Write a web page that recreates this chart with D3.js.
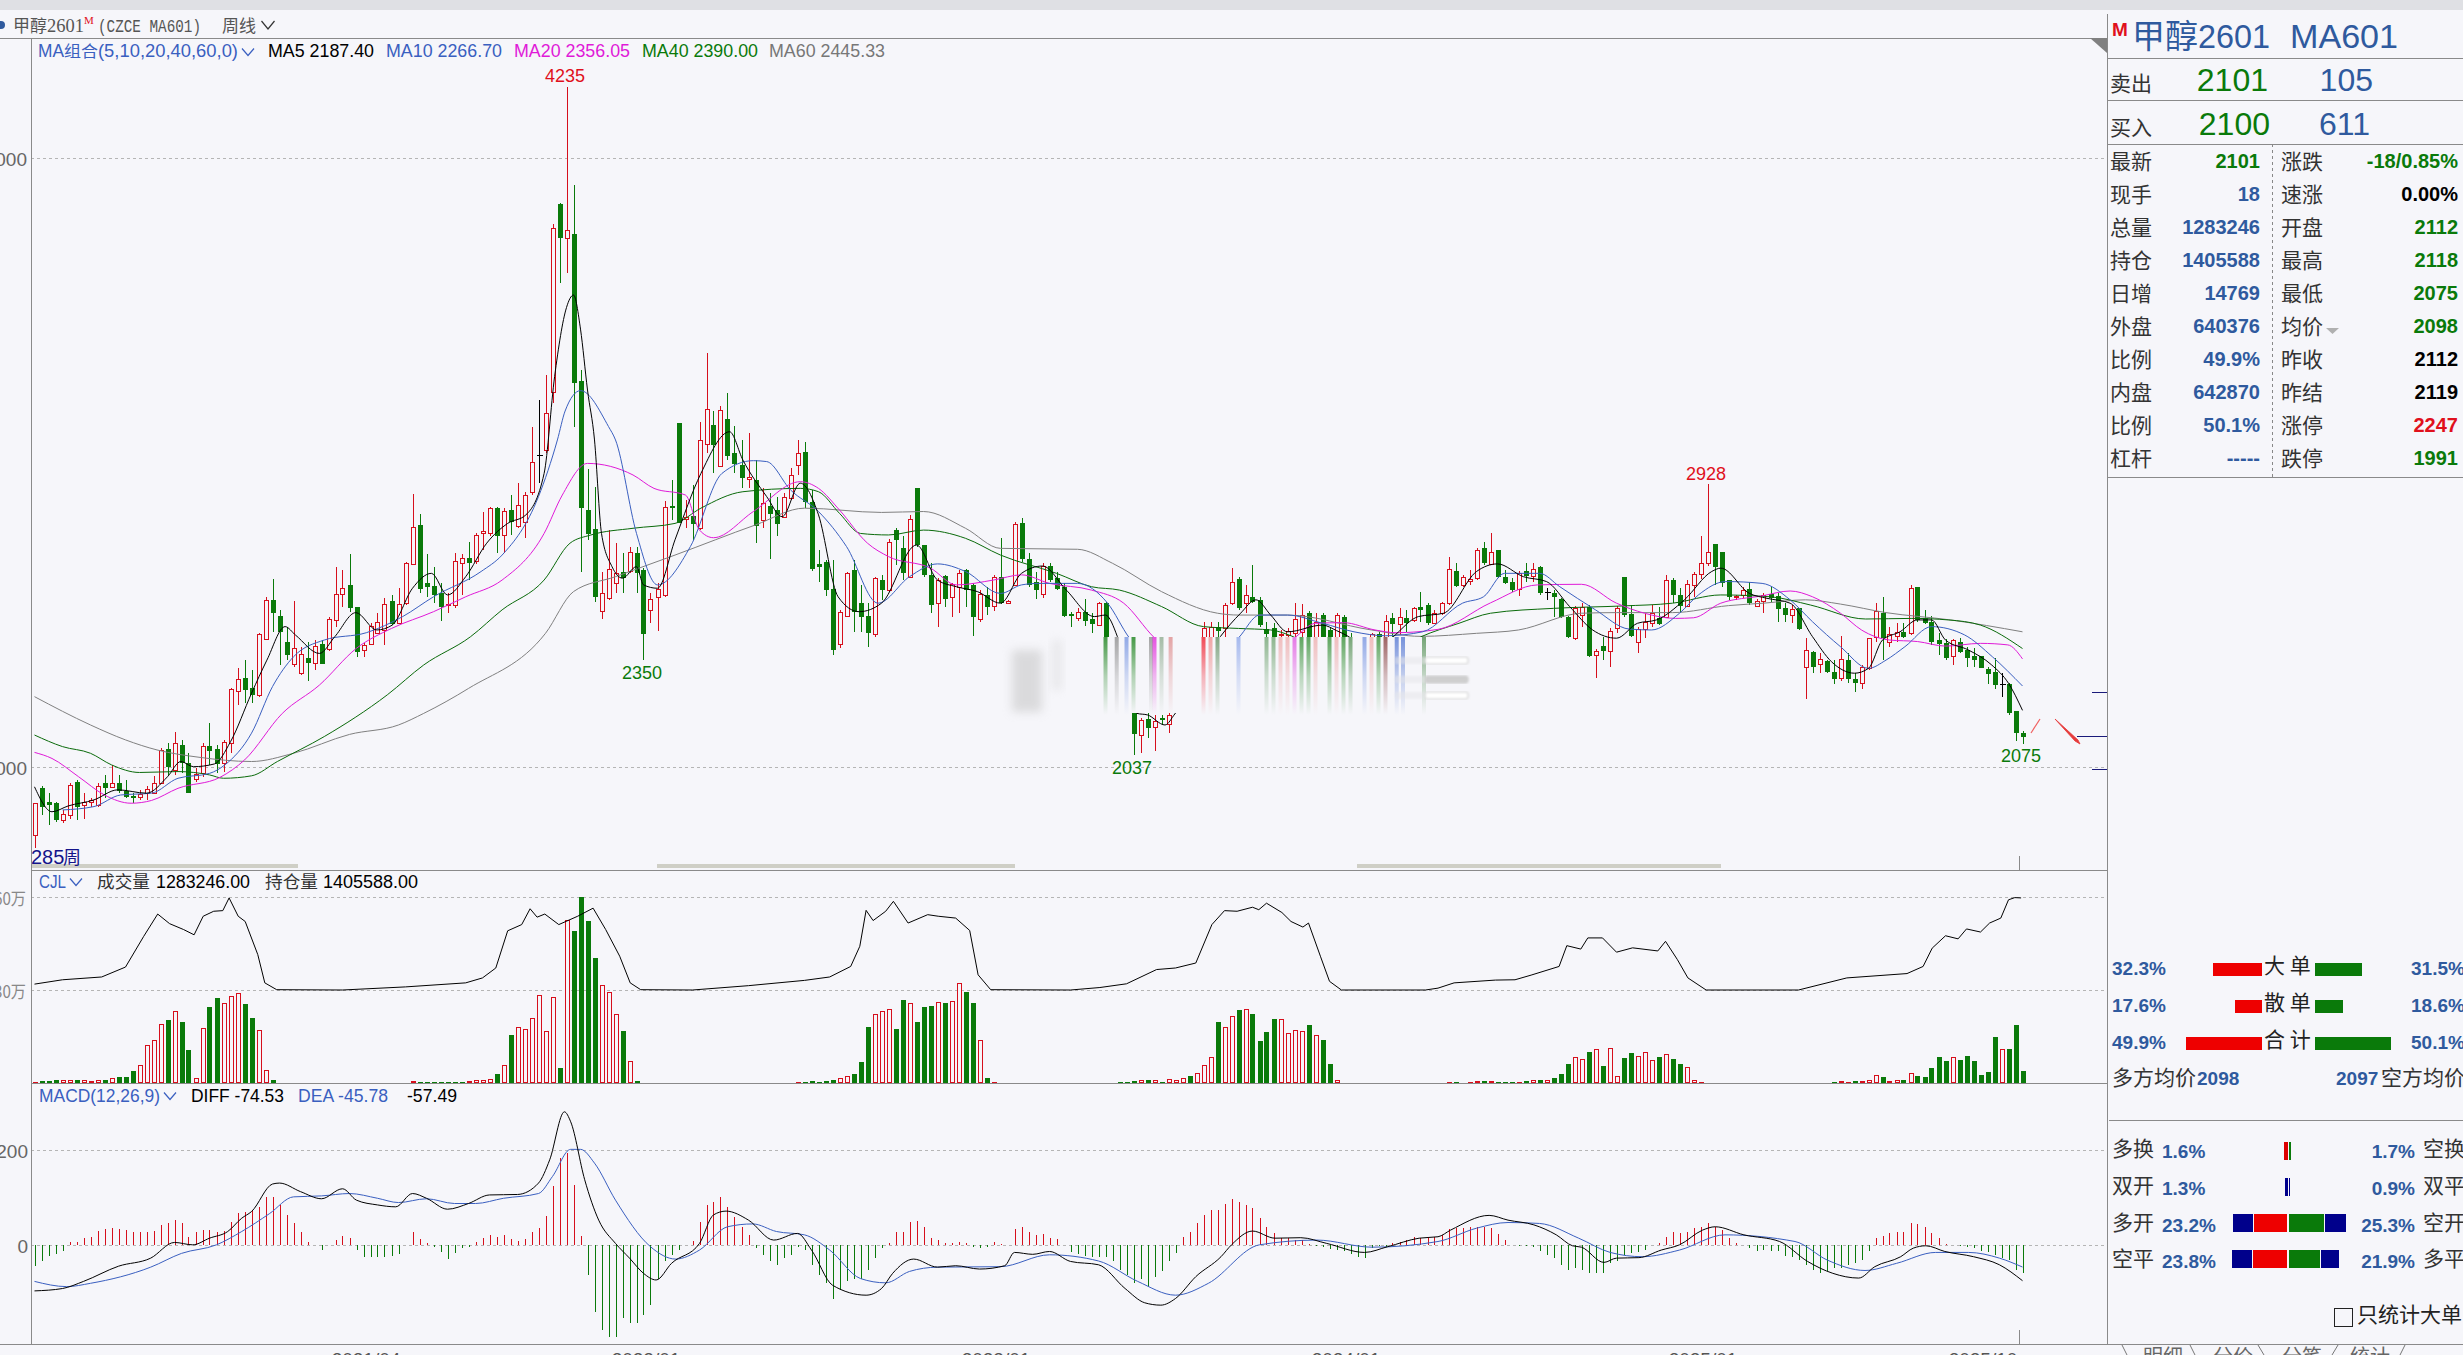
<!DOCTYPE html>
<html><head><meta charset="utf-8">
<style>html,body{margin:0;padding:0;background:#f6f6fa;overflow:hidden}svg{display:block}</style>
<script src="https://cdn.jsdelivr.net/npm/d3@7"></script>
</head><body><svg id="c" width="2463" height="1355"></svg>
<script>
const opens=[
1778,1931,1887,1882,1827,1843,1953,1876,1885,1876,
1947,1934,1947,1922,1906,1901,1915,1917,1950,2059,
1991,2073,2015,1962,1980,2070,2059,2015,2081,2252,
2292,2259,2237,2421,2551,2498,2412,2339,2309,2358,
2341,2405,2388,2484,2568,2599,2525,2385,2405,2442,
2451,2546,2473,2539,2668,2796,2604,2595,2574,2533,
2533,2672,2686,2679,2771,2768,2851,2763,2845,2793,
2807,2905,3026,3042,3234,3850,3737,3750,3269,2845,
2782,2514,2555,2606,2643,2646,2703,2648,2517,2560,
2566,2858,3130,2814,2825,2785,3062,3123,2991,3143,
3031,2993,2946,2944,2812,2859,2845,2823,2883,2993,
3037,2872,2668,2675,2586,2405,2497,2648,2539,2497,
2438,2615,2582,2779,2719,2624,2918,2729,2632,2539,
2628,2558,2593,2648,2599,2487,2566,2531,2624,2541,
2599,2801,2683,2610,2569,2661,2621,2593,2503,2491,
2511,2486,2467,2539,2350,2290,2320,2330,2106,2158,
2131,2161,2141,2220,2280,2340,2310,2352,2375,2462,
2456,2539,2618,2539,2560,2551,2454,2456,2433,2435,
2440,2445,2508,2429,2500,2451,2418,2495,2429,2350,
2400,2374,2437,2342,2489,2471,2491,2484,2528,2533,
2475,2506,2539,2645,2599,2612,2623,2720,2668,2712,
2624,2610,2585,2645,2629,2659,2577,2574,2552,2495,
2424,2500,2528,2369,2398,2382,2456,2626,2503,2413,
2453,2475,2491,2495,2615,2566,2530,2599,2634,2670,
2733,2708,2615,2558,2566,2585,2531,2547,2569,2563,
2522,2500,2522,2331,2380,2338,2349,2312,2292,2353,
2289,2278,2325,2427,2506,2413,2432,2445,2440,2593,
2489,2478,2418,2407,2366,2411,2385,2366,2364,2323,
2312,2273,2273,2185,2112];
const closes=[
1882,1871,1876,1827,1847,1942,1871,1887,1893,1939,
1931,1950,1922,1904,1900,1912,1929,1947,2057,2002,
2079,2015,1917,1978,2070,2054,2011,2084,2256,2290,
2254,2237,2437,2551,2506,2445,2369,2391,2372,2341,
2398,2339,2487,2568,2590,2522,2378,2402,2465,2476,
2536,2471,2536,2672,2788,2586,2593,2566,2528,2537,
2679,2686,2672,2763,2776,2851,2758,2843,2807,2862,
2894,3004,3026,3165,3770,3739,3765,3263,2853,2766,
2560,2571,2650,2637,2621,2708,2637,2438,2552,2585,
2854,2851,2803,2821,2799,3075,3176,3059,3172,3022,
2996,2949,2952,2794,2867,2832,2799,2889,2960,3033,
2872,2650,2659,2582,2385,2511,2639,2511,2495,2442,
2621,2582,2741,2748,2637,2817,2730,2632,2533,2615,
2552,2602,2639,2582,2495,2569,2528,2624,2539,2545,
2799,2683,2599,2582,2661,2615,2586,2497,2498,2511,
2482,2471,2539,2380,2300,2330,2280,2109,2155,2128,
2153,2155,2172,2290,2330,2300,2350,2459,2462,2449,
2533,2610,2522,2566,2542,2467,2438,2429,2438,2449,
2487,2500,2418,2478,2418,2407,2500,2396,2363,2390,
2360,2438,2342,2482,2471,2493,2475,2522,2517,2475,
2508,2539,2650,2596,2624,2619,2712,2671,2706,2624,
2606,2582,2637,2628,2651,2574,2577,2560,2492,2429,
2522,2528,2367,2383,2383,2449,2524,2500,2431,2453,
2478,2506,2470,2615,2566,2530,2602,2635,2671,2706,
2659,2606,2560,2563,2582,2539,2546,2566,2555,2520,
2500,2520,2454,2385,2331,2355,2314,2290,2355,2289,
2276,2328,2424,2512,2424,2437,2443,2429,2588,2484,
2473,2410,2405,2358,2418,2380,2358,2352,2327,2305,
2270,2273,2177,2112,2101];
const highs=[
1882,1940,1915,1885,1860,1950,1958,1915,1898,1950,
1975,2008,1975,1958,1915,1925,1937,1970,2062,2079,
2117,2090,2046,1997,2079,2147,2073,2090,2259,2325,
2352,2320,2442,2560,2617,2517,2462,2546,2396,2413,
2418,2418,2495,2657,2648,2699,2528,2407,2473,2506,
2555,2566,2588,2675,2897,2832,2701,2659,2604,2571,
2703,2701,2741,2768,2840,2856,2856,2851,2894,2933,
2905,3119,3206,3288,3784,3852,4235,3912,3305,2979,
2922,2643,2779,2736,2703,2725,2725,2653,2571,2604,
2873,2944,3130,2878,2927,3135,3360,3170,3187,3228,
3121,3075,3097,3009,2916,2900,2889,2900,2982,3075,
3069,2911,2714,2681,2681,2517,2643,2681,2599,2539,
2626,2632,2749,2785,2758,2829,2918,2729,2670,2621,
2632,2604,2648,2650,2604,2582,2593,2632,2752,2548,
2804,2818,2703,2643,2672,2672,2643,2604,2511,2522,
2552,2506,2544,2544,2365,2345,2340,2340,2161,2177,
2172,2172,2177,2310,2350,2360,2370,2478,2478,2478,
2539,2654,2626,2599,2664,2560,2478,2473,2450,2456,
2539,2536,2514,2506,2506,2462,2508,2500,2440,2410,
2415,2440,2445,2500,2508,2522,2517,2528,2575,2539,
2517,2544,2692,2670,2632,2648,2719,2741,2768,2714,
2648,2621,2645,2670,2670,2661,2588,2582,2555,2497,
2530,2539,2533,2388,2429,2456,2530,2626,2533,2462,
2506,2533,2528,2632,2621,2588,2615,2643,2760,2929,
2733,2708,2615,2566,2593,2610,2552,2574,2593,2571,
2539,2533,2524,2424,2383,2374,2352,2352,2432,2374,
2309,2336,2424,2539,2558,2462,2473,2473,2599,2593,
2517,2498,2440,2420,2421,2424,2394,2391,2366,2331,
2358,2309,2276,2186,2118];
const lows=[
1734,1843,1811,1820,1818,1830,1827,1829,1871,1871,
1898,1931,1915,1898,1882,1893,1893,1912,1950,1975,
1975,1980,1917,1953,1969,2008,1980,1986,2046,2205,
2210,2210,2230,2418,2445,2336,2353,2331,2303,2285,
2320,2339,2383,2462,2528,2511,2361,2361,2402,2440,
2402,2467,2471,2533,2665,2571,2560,2539,2482,2506,
2522,2566,2615,2668,2714,2758,2703,2703,2763,2785,
2752,2894,2933,3031,3195,3590,3622,3119,2643,2747,
2544,2486,2550,2571,2571,2637,2571,2352,2475,2449,
2560,2812,2801,2785,2747,2779,3031,2966,2987,3009,
2966,2916,2916,2738,2785,2683,2758,2818,2878,2960,
2851,2646,2610,2561,2369,2391,2495,2445,2445,2394,
2429,2550,2577,2665,2615,2621,2725,2626,2506,2462,
2528,2495,2506,2528,2432,2476,2500,2514,2537,2540,
2597,2675,2593,2552,2555,2610,2582,2493,2462,2482,
2464,2442,2464,2360,2285,2280,2270,2040,2046,2095,
2055,2139,2114,2200,2260,2285,2295,2330,2350,2309,
2374,2533,2517,2506,2539,2462,2320,2320,2380,2360,
2320,2309,2309,2320,2320,2340,2340,2340,2340,2330,
2345,2350,2320,2320,2396,2434,2445,2478,2478,2467,
2471,2500,2533,2591,2593,2599,2615,2665,2665,2621,
2602,2577,2561,2610,2610,2566,2550,2495,2489,2424,
2418,2462,2361,2292,2353,2328,2440,2495,2429,2374,
2424,2462,2467,2489,2539,2506,2528,2560,2617,2661,
2599,2593,2550,2550,2555,2533,2528,2506,2544,2478,
2478,2473,2451,2223,2309,2309,2309,2273,2285,2276,
2248,2256,2320,2413,2352,2396,2413,2424,2435,2478,
2471,2402,2369,2353,2336,2374,2328,2328,2325,2273,
2256,2232,2172,2088,2075];

const ma5=[[0,1936],[2.5,1854],[4.8,1873],[8.5,1893],[11.9,1926],[16,1915],[19,1969],[20.9,2019],[22.7,2002],[25.7,2011],[28,2084],[31,2243],[33.2,2352],[35.8,2462],[37.3,2434],[40.7,2374],[42.9,2429],[45.9,2508],[48.9,2451],[51.1,2467],[54,2588],[56.7,2637],[59,2566],[61.6,2626],[64.6,2736],[67.6,2801],[70.2,2829],[72.8,2965],[74.3,3283],[76,3510],[77,3551],[78,3439],[79,3239],[80,3075],[81,2768],[82.5,2659],[84,2621],[86,2659],[87,2599],[89,2588],[91.5,2747],[95.2,2965],[99.3,3102],[101.2,3009],[104.6,2889],[106.8,2823],[109.4,2933],[112,2829],[114.8,2560],[117.8,2511],[121,2539],[126,2730],[129,2615],[131.7,2593],[134.7,2577],[138,2539],[141,2637],[144,2661],[147.4,2582],[151.4,2495],[153,2500],[154.7,2429],[157.5,2177],[159,2172],[161.5,2139],[162.9,2175],[169.4,2429],[172.3,2506],[174.5,2550],[176.6,2500],[179,2445],[184,2467],[186,2449],[188,2425],[191,2360],[194.4,2435],[197.7,2495],[201.3,2506],[206,2643],[209,2668],[212.7,2626],[216,2610],[219.3,2528],[222.6,2451],[226,2424],[229,2473],[231.7,2484],[235.7,2550],[239.6,2643],[240.9,2654],[245,2571],[247.5,2555],[250.8,2539],[254,2429],[256.7,2347],[260,2309],[262,2325],[264,2418],[266.5,2445],[269,2484],[271,2484],[273,2418],[276.3,2385],[279.6,2336],[282,2276],[284,2187]];
const ma10=[[4,1860],[8.5,1871],[12.3,1909],[16.7,1915],[20.5,1964],[25,1980],[27.2,2008],[31,2112],[34,2265],[37,2363],[41.4,2418],[47.4,2442],[52.6,2495],[57,2560],[63.8,2643],[66.8,2697],[72,2889],[74.7,3075],[75.8,3170],[78,3237],[82,3119],[83,3075],[86,2768],[89,2599],[93.7,2725],[98.2,2965],[102.7,3007],[104.6,3004],[108,2911],[112,2840],[116,2725],[120.5,2539],[125,2626],[129,2668],[133,2643],[138,2571],[141,2599],[143.5,2604],[149,2604],[153.3,2539],[156.4,2425],[160,2340],[168,2340],[172,2425],[175,2500],[179,2500],[184,2473],[188.5,2445],[193,2432],[198.3,2445],[204,2539],[207,2560],[210,2637],[215,2637],[217.9,2593],[223,2517],[227.8,2454],[231,2451],[235,2506],[237.7,2566],[241.6,2610],[246.8,2604],[250.8,2550],[254,2478],[258,2396],[262,2325],[264.5,2352],[267.2,2396],[271,2462],[275.7,2435],[279.7,2363],[284,2267]];
const ma20=[[0,2049],[2.5,2029],[6.3,1969],[10,1909],[13.8,1882],[16.7,1891],[20.5,1931],[26.5,1967],[30,2024],[35.4,2177],[40.7,2270],[46,2391],[51,2456],[57,2511],[61.6,2560],[66.8,2615],[72.8,2768],[75.4,2894],[79,2998],[85.5,2960],[88.5,2916],[93,2894],[95,2779],[97,2754],[102.7,2840],[109.4,2938],[112,2916],[115,2845],[119,2736],[122,2692],[128,2654],[131.7,2599],[137,2615],[141,2632],[145,2604],[151,2582],[155.6,2539],[160,2425],[165,2340],[175,2340],[180,2425],[183,2473],[187,2475],[191.5,2451],[194.5,2442],[200.5,2453],[208,2540],[214.7,2599],[221,2601],[226,2539],[230,2506],[234.4,2489],[237,2491],[240.9,2539],[246.8,2563],[250.8,2579],[254,2560],[258,2506],[261,2451],[265,2418],[269,2413],[273,2398],[278,2407],[281.9,2402],[284,2356]];
const ma40=[[0,2106],[4,2068],[8,2046],[11,2008],[15,1983],[20.5,1986],[25,1975],[27,1964],[31,1972],[34.7,2019],[41.4,2101],[50.4,2238],[55.6,2336],[62.3,2429],[66.8,2517],[72.8,2615],[76.5,2736],[79.5,2763],[85.5,2785],[91.5,2801],[95.2,2851],[101.2,2905],[109.4,2916],[112,2905],[115,2834],[118,2768],[122,2763],[127,2779],[133,2752],[138,2697],[146,2637],[151,2593],[155,2582],[161,2528],[167,2462],[172,2456],[176.6,2451],[179.5,2432],[184,2380],[194,2380],[198,2428],[203.5,2473],[208,2506],[217,2522],[227,2530],[234,2539],[240.9,2566],[248,2560],[253.7,2533],[261.6,2487],[268.2,2489],[273.4,2484],[278,2467],[284,2390]];
const ma60=[[0,2232],[8,2139],[13,2090],[17.5,2057],[23.5,2033],[31,2019],[37,2046],[45,2108],[52,2139],[55.6,2177],[62,2259],[73,2440],[77,2577],[83,2626],[91.5,2697],[103,2796],[110,2851],[121,2837],[127,2840],[133,2785],[138,2719],[149,2716],[154,2670],[161,2577],[169,2506],[172,2500],[179,2500],[191,2451],[198,2430],[206,2440],[212,2451],[221,2506],[226,2508],[234,2508],[242,2531],[247,2539],[253,2550],[258,2536],[264.5,2508],[273.7,2484],[284,2445]];

const volumes=[
.3,.5,.6,1.1,.9,1.1,1.1,1.1,.5,1.1,1.1,1.6,2,2,4,5.9,12.4,14,19.1,20.4,23.2,19.8,10.8,1.6,17.7,24.6,27.5,25.8,28.2,29,25.6,21.1,17.1,4.3,1.1,
0,0,0,0,0,0,0,0,0,0,0,0,0,0,0,0,0,0,0,
.6,.3,.3,.3,.3,.3,.3,.3,.5,.9,1.1,1.4,3,5.8,15.6,18.1,17.5,21,28.5,16.9,27.8,4.9,52.6,49.1,59.9,52.4,40.4,31.6,29.3,22.3,16.9,7.1,.6,
0,0,0,0,0,0,0,0,0,0,0,0,0,0,0,0,0,0,0,0,0,0,
.3,.3,.6,.4,.6,1.1,1.6,2.2,3,6.7,18.2,22.3,23.2,23.9,17.5,26.9,25.8,19.6,24.6,24.9,26,25.8,26.4,32.3,29.2,25.8,14,1.6,.3,
0,0,0,0,0,0,0,0,0,0,0,0,0,0,0,0,0,
.3,.3,.6,1,1.1,1,.3,1.3,1.1,1.6,2.4,3.2,5.8,8.4,19.7,18.1,21.6,23.4,23.9,22.4,13.7,16.6,20.8,20.7,16.1,17.1,16.8,18.8,15.5,14,6.2,1.1,
0,0,0,0,0,0,0,0,0,0,0,0,0,0,0,
.3,.3,0,.3,.6,.6,.6,.4,.4,.4,.3,.8,1.1,1.1,1.1,1.6,3,6.2,8.4,7.7,10.1,11,5.6,11.3,2.3,8.2,9.8,8.8,10,7.3,8.5,9.4,7.9,6.2,5.2,1.1,.4,
0,0,0,0,0,0,0,0,0,0,0,0,0,0,0,0,0,0,
.3,.8,.4,.8,.8,1,2.6,2,.8,1,1.1,3.2,2.4,2,4.9,8.5,7.2,8.4,7.5,8.8,7.2,2.7,3.7,15,11,11.1,18.8,4];
const volumeSides=[
"rgggrrgrrrgrgggrrrrgrggrrggrrrggrrg","-------------------",
"rgggggggrrrrgrgrrrrrrgrggggrrrgrg","----------------------",
"rgggggrrgggrrrggrgggrgrrggrgr","-----------------",
"gggrgrgrrrgrrrgrrgrggggrrrrgrggr","---------------",
"rg-rrgrgggrgrgrgggrrgrgrrggrrrgrggrrr","------------------",
"grrgrrrgrrgrgggggrggggggrggg"].join("");
const openInterest=[[0,31.9],[4,33.3],[9.6,34.2],[13,37.4],[15.6,47.3],[17.6,54.5],[19.3,51.4],[21.3,49.5],[22.8,47.8],[24.1,53.8],[25.6,55.4],[26.9,55.6],[27.8,59.7],[29.1,53.8],[30.1,52.1],[31.9,41.4],[32.9,32.3],[34.6,30.1],[44,30],[53,31],[61.6,32.3],[64,33.9],[65.9,37.1],[67.6,49.1],[69.6,51.1],[70.8,56.2],[71.8,53.5],[72.9,54.5],[74.9,51.1],[77.6,53.8],[79.8,56.4],[81.6,49.5],[83.6,40.9],[85.1,32.3],[86.6,30.1],[94,30],[102,31.4],[110,33.1],[113.6,34.2],[116.6,37.6],[117.9,44.1],[118.8,55.7],[119.8,52.4],[121.6,55.4],[122.7,58.6],[124.8,51.6],[127.6,54.3],[129.1,53.8],[131.6,53.2],[133.6,49.2],[134.8,34.9],[136.6,30.1],[148,30],[152.2,30.8],[156,32],[160.3,36.6],[163,37.1],[165.9,38.7],[168.2,51.1],[170,55.6],[171.8,55.4],[174,56.7],[174.9,55.9],[176,58],[178.2,55],[179.5,52.1],[181.2,50.3],[182,51.6],[183.7,40.9],[185,32.8],[186.7,30],[198.7,30],[200.5,30.6],[202.8,32.3],[208.7,33.2],[211.5,33.3],[213.8,34.8],[217.8,37.6],[218.9,44.3],[220.9,43.2],[221.9,46.8],[224,46.8],[226,42.2],[228.3,43.6],[231.9,42.6],[233,45.7],[234.7,39.8],[236.2,33.9],[238.8,30],[252,30],[258.9,33.9],[267.5,35.3],[269.8,37.6],[271.1,43.5],[273,47.5],[274.8,46.5],[276,49.7],[278,48.7],[279.3,51.6],[280.9,53.2],[282,59.1],[282.9,59.8],[283.8,59.7]];

const macdBars=[
-43,-33,-22,-19,-11,6,8,15,18,30,
34,37,34,32,27,27,27,30,43,46,
53,46,18,29,32,32,27,30,50,69,
71,74,81,102,102,85,64,46,27,8,
0,-10,0,11,20,15,-10,-25,-25,-24,
-24,-22,-19,0,27,13,4,-4,-15,-29,
-17,-6,-3,6,15,22,18,22,13,10,
13,29,36,62,124,183,194,126,20,-62,
-140,-178,-192,-194,-154,-164,-164,-147,-126,-70,
-34,-20,-10,0,9,50,85,92,101,81,
60,39,22,-6,-20,-34,-41,-27,-20,-3,
-10,-41,-62,-80,-112,-94,-76,-70,-70,-52,
-27,-6,4,27,27,50,51,39,15,11,
4,4,6,4,-3,-6,-3,6,3,1,
34,39,27,22,24,16,13,0,-15,-19,
-22,-25,-24,-24,-34,-52,-62,-79,-70,-87,
-66,-55,-34,-17,18,29,46,64,74,74,
88,98,92,85,78,57,39,25,15,15,
11,11,2,-1,-3,-8,-10,-11,-19,-24,
-26,-6,-1,-3,4,8,11,18,15,18,
18,22,34,36,36,39,39,39,36,24,
11,0,-1,-1,-3,-13,-20,-27,-41,-52,
-48,-53,-58,-59,-59,-38,-34,-20,-17,-15,
-10,0,4,18,27,25,29,36,39,48,
39,32,15,4,0,-6,-11,-10,-13,-13,
-22,-25,-31,-41,-53,-58,-55,-48,-48,-41,
-38,-31,-11,15,20,25,27,27,46,44,
39,25,15,2,0,-1,-4,-6,-11,-15,
-20,-27,-31,-52,-57.49];
const diffLine=[[0,-96],[4,-91],[7,-76],[12,-44],[16.6,-27],[20,6],[22.6,1],[25,15],[27.6,29],[29.6,57],[31,71],[34,129],[35,131],[38,113],[41,98],[44,119],[46,95],[49,85],[51.6,81],[54,109],[56,99],[59,76],[62,88],[65,106],[69,107],[72,131],[73.6,180],[75.7,281],[76.6,260],[78.6,138],[80.6,53],[83,4],[85,-27],[87,-59],[88.8,-73],[91,-38],[95,4],[97,64],[98.8,72],[102,53],[105.6,11],[109,25],[111,-10],[114,-84],[118.8,-105],[121,-91],[122.6,-59],[125.6,-29],[129,-46],[131.6,-43],[135,-50],[138.6,-43],[140,-15],[142.6,-19],[145,-13],[148,-34],[152,-41],[155.8,-91],[158.6,-121],[160.9,-126],[163,-112],[165.9,-66],[169.5,-24],[171,1],[174,30],[177.2,15],[180.9,16],[184.6,4],[190,-15],[193.3,-3],[197.8,15],[200.5,18],[202.3,32],[207.8,63],[210.5,53],[214.2,43],[217.4,22],[219.7,-1],[221,-4],[224.2,-36],[226,-27],[229.2,-26],[232.4,-10],[235,1],[238.3,32],[240.1,39],[244.2,22],[249.3,8],[253.3,-34],[256.9,-59],[260.6,-69],[262.9,-45],[266.6,-24],[268.4,-6],[270.2,-1],[272.9,-13],[277,-24],[280.7,-41],[284,-74.53]];
const deaLine=[[0,-76],[4.6,-87],[8,-80],[16.6,-46],[21,-17],[26,1],[29.6,29],[33.6,67],[37,102],[41,104],[45,109],[49,99],[52,90],[56,98],[60,88],[63,88],[67,99],[72,109],[74,145],[76.6,202],[78,202],[80,173],[83,95],[88,-3],[91.6,-29],[95,-10],[99,39],[102.6,45],[106,29],[110,22],[113.6,-10],[118,-70],[121.6,-79],[125,-55],[129,-46],[138,-45],[145,-20],[152,-33],[157.6,-76],[163,-105],[167.7,-80],[175,1],[183.2,11],[191.1,-4],[200.5,8],[206,36],[210.5,48],[215,46],[220.6,15],[225.1,-15],[229.7,-24],[235,-10],[241.5,22],[251.5,8],[256.1,-31],[261.5,-53],[266,-38],[271.6,-15],[276.3,-15],[280.7,-27],[284,-45.78]];

const dateTickIndex=[47,87,137,187,238,278];
const dateTickLabels=["2021/04","2022/01","2023/01","2024/01","2025/01","2025/10"];
const priceTicks=[2000,4000];
const volumeTicks=[30,60];
const macdTicks=[0,200];
const extremes=[[76,4235,"#e0101c"],[87,2350,"#0a7a0a"],[157,2037,"#0a7a0a"],[239,2928,"#e0101c"],[284,2075,"#0a7a0a"]];
const quoteLeft=[["最新","2101","g"],["现手","18","b"],["总量","1283246","b"],["持仓","1405588","b"],["日增","14769","b"],["外盘","640376","b"],["比例","49.9%","b"],["内盘","642870","b"],["比例","50.1%","b"],["杠杆","-----","b"]];
const quoteRight=[["涨跌","-18/0.85%","g"],["速涨","0.00%","k"],["开盘","2112","g"],["最高","2118","g"],["最低","2075","g"],["均价","2098","g"],["昨收","2112","k"],["昨结","2119","k"],["涨停","2247","r"],["跌停","1991","g"]];

const RED="#d60f1c",GREEN="#0a7a0a",BG="#f6f6fa",BLUE="#2f5a9e",LINE="#8a8a8a";
const CJK='"Noto Sans CJK SC",sans-serif',LAT='"Liberation Sans",Arial,sans-serif';
const svg=d3.select("#c");
svg.append("rect").attr("width",2463).attr("height",1355).attr("fill",BG);
const defs=svg.append("defs");
const blur=defs.append("filter").attr("id","b").attr("x","-40%").attr("y","-10%").attr("width","180%").attr("height","120%");
blur.append("feGaussianBlur").attr("stdDeviation","1.2");
const blur2=defs.append("filter").attr("id","b2").attr("x","-40%").attr("y","-40%").attr("width","180%").attr("height","180%");
blur2.append("feGaussianBlur").attr("stdDeviation","5");

const x=d3.scaleLinear().domain([0,284]).range([34.5,2022.5]);
const yP=d3.scaleLinear().domain([2000,4000]).range([767.3,158.3]);
const yV=d3.scaleLinear().domain([0,60]).range([1083,897]);
const yM=d3.scaleLinear().domain([0,200]).range([1245.3,1150.3]);

function txt(g,px,py,s,o={}){
  const t=g.append("text").attr("x",px).attr("y",py).text(s)
    .attr("font-family",o.family||LAT).attr("font-size",o.size||18).attr("fill",o.fill||"#222")
    .attr("text-anchor",o.anchor||"start").attr("font-weight",o.weight||400);
  if(o.len){t.attr("textLength",o.len).attr("lengthAdjust","spacingAndGlyphs");}
  return t;
}
function hline(g,x1,x2,y,c,dash){const l=g.append("line").attr("x1",x1).attr("x2",x2).attr("y1",y).attr("y2",y).attr("stroke",c).attr("shape-rendering","crispEdges");if(dash)l.attr("stroke-dasharray",dash);return l;}
function vline(g,x0,y1,y2,c,dash){const l=g.append("line").attr("x1",x0).attr("x2",x0).attr("y1",y1).attr("y2",y2).attr("stroke",c).attr("shape-rendering","crispEdges");if(dash)l.attr("stroke-dasharray",dash);return l;}
function chevron(g,cx,cy,w,h,c){g.append("path").attr("d",d3.line()([[cx-w/2,cy-h/2],[cx,cy+h/2],[cx+w/2,cy-h/2]])).attr("fill","none").attr("stroke",c).attr("stroke-width",1.2);}

const root=svg.append("g");
root.append("rect").attr("width",2463).attr("height",10).attr("fill","#dfe0e4");

/* grid */
const grid=root.append("g");
priceTicks.forEach(v=>hline(grid,31,2107,Math.round(yP(v))+.5,"#b5b5b5","3 3"));
volumeTicks.forEach(v=>hline(grid,31,2107,Math.round(yV(v))+.5,"#b5b5b5","3 3"));
macdTicks.forEach(v=>hline(grid,31,2107,Math.round(yM(v))+.5,"#b5b5b5","3 3"));

/* candles */
const candles=root.append("g");
opens.forEach((o,i)=>{
  const c=closes[i],up=c>o,flat=c===o;
  const col=flat?"#000":(up?RED:GREEN),cx=Math.round(x(i))+.5;
  candles.append("line").attr("x1",cx).attr("x2",cx).attr("y1",yP(highs[i])).attr("y2",yP(lows[i])).attr("stroke",col).attr("shape-rendering","crispEdges");
  const t=Math.round(yP(Math.max(o,c))),b=Math.round(yP(Math.min(o,c)));
  if(flat){candles.append("line").attr("x1",cx-3).attr("x2",cx+3).attr("y1",t+.5).attr("y2",t+.5).attr("stroke",col).attr("shape-rendering","crispEdges");}
  else if(up){candles.append("rect").attr("x",cx-2).attr("y",t+.5).attr("width",4).attr("height",Math.max(1,b-t)).attr("fill",BG).attr("stroke",col).attr("shape-rendering","crispEdges");}
  else{candles.append("rect").attr("x",cx-2.5).attr("y",t).attr("width",5).attr("height",Math.max(2,b-t)).attr("fill",col).attr("shape-rendering","crispEdges");}
});
/* moving averages */
const priceLine=d3.line().x(d=>x(d[0])).y(d=>yP(d[1])).curve(d3.curveMonotoneX);
[[ma60,"#808080"],[ma40,"#0a6a0a"],[ma20,"#e01ad8"],[ma10,"#3a5fc0"],[ma5,"#000"]].forEach(([d,c])=>{
  root.append("path").attr("d",priceLine(d)).attr("fill","none").attr("stroke",c).attr("stroke-width",1);
});

/* masked area */
const patch=root.append("g");
patch.append("rect").attr("x",1100).attr("y",637).attr("width",330).attr("height",76).attr("fill",BG);
const streaks=[[153,GREEN],[154.6,"#888"],[156,"#6f8fe0"],[157,GREEN],[159.5,"#888"],[160,"#e01ad8"],[161,"#8aa88a"],[162.3,"#d88"],[167,"#f01020"],[168,"#e88"],[169,"#5a8a5a"],[172,"#8aa4ea"],[176,"#6aa06a"],[177,"#6aa06a"],[178,"#eaa"],[179,"#eaa"],[180,"#e050e0"],[181,"#2a8a2a"],[182,"#2a8a2a"],[183,"#eaa"],[185,"#2a8a2a"],[186,"#eaa"],[187,"#2a8a2a"],[188,"#4a8a4a"],[190,"#6f8fe0"],[191,"#eaa"],[192,"#2a8a2a"],[193,"#803030"],[194.6,"#4a6fd0"],[195.5,"#4a6fd0"],[198.5,"#4a8a4a"]];
streaks.forEach(([i,c],k)=>{
  const id="s"+k,g=defs.append("linearGradient").attr("id",id).attr("x1",0).attr("x2",0).attr("y1",0).attr("y2",1);
  g.append("stop").attr("offset",0).attr("stop-color",c).attr("stop-opacity",.75);
  g.append("stop").attr("offset",.5).attr("stop-color",c).attr("stop-opacity",.3);
  g.append("stop").attr("offset",1).attr("stop-color",c).attr("stop-opacity",0);
  patch.append("rect").attr("x",x(i)-2).attr("y",637).attr("width",4).attr("height",78).attr("fill",`url(#${id})`);
});
patch.append("rect").attr("x",1012).attr("y",650).attr("width",30).attr("height",62).attr("fill","#c0c0c0").attr("opacity",.5).attr("filter","url(#b2)");
patch.append("rect").attr("x",1052).attr("y",640).attr("width",10).attr("height",50).attr("fill","#c8c8c8").attr("opacity",.3).attr("filter","url(#b2)");
[[657,"#fff"],[676,"#cfcfcf"],[692,"#fff"]].forEach(([py,c])=>{
  patch.append("rect").attr("x",1425).attr("y",py).attr("width",43).attr("height",7).attr("rx",2).attr("fill",c).attr("stroke","#c8c8c8").attr("filter","url(#b)");
  patch.append("rect").attr("x",1395).attr("y",py).attr("width",30).attr("height",7).attr("fill","#e6e6ea").attr("opacity",.5).attr("filter","url(#b)");
});

/* extreme labels */
extremes.forEach(([i,v,c])=>{
  const up=c!=="#0a7a0a";
  txt(root,x(i)-1.5,yP(v)+(up?-5:18),String(v),{size:18,fill:c,anchor:"middle"});
});

/* scrollbar strips */
[[31,298],[657,1015],[1357,1721]].forEach(([a,b])=>root.append("rect").attr("x",a).attr("y",864).attr("width",b-a).attr("height",4).attr("fill","#cfcfc6"));
txt(root,31,864,"285",{size:20,fill:"#14148a"});
txt(root,63,864,"周",{size:18,fill:"#14148a",family:CJK});

/* arrows / right-edge ticks */
[[2092,692],[2077,736],[2092,769]].forEach(([a,py])=>hline(root,a,2107,py+.5,"#1a1a7a"));
root.append("path").attr("d",d3.line()([[2031,733],[2040,719]])).attr("stroke","#f06060").attr("fill","none").attr("stroke-width",1.2);
root.append("path").attr("d","M2055,719 L2078,740 L2080,744 L2075,741 Z").attr("fill","#e63a3a").attr("stroke","#e63a3a").attr("stroke-width",.8);

/* volume + open interest */
const vol=root.append("g");
volumes.forEach((v,i)=>{
  if(!v)return;
  const up=volumeSides[i]==="r",cx=Math.round(x(i))+.5,t=Math.round(yV(v));
  if(up)vol.append("rect").attr("x",cx-2).attr("y",t+.5).attr("width",4).attr("height",Math.max(1,1083-t-1)).attr("fill",BG).attr("stroke",RED).attr("shape-rendering","crispEdges");
  else vol.append("rect").attr("x",cx-2.5).attr("y",t).attr("width",5).attr("height",Math.max(1,1083-t)).attr("fill",GREEN).attr("shape-rendering","crispEdges");
});
vol.append("path").attr("d",d3.line().x(d=>x(d[0])).y(d=>yV(d[1])).curve(d3.curveLinear)(openInterest)).attr("fill","none").attr("stroke","#000").attr("stroke-width",1);

/* macd */
const mg=root.append("g");
macdBars.forEach((v,i)=>{
  if(!v)return;
  const cx=Math.round(x(i))+.5;
  mg.append("line").attr("x1",cx).attr("x2",cx).attr("y1",yM(0)).attr("y2",yM(v)).attr("stroke",v>0?RED:GREEN).attr("shape-rendering","crispEdges");
});
const macdLine=d3.line().x(d=>x(d[0])).y(d=>yM(d[1])).curve(d3.curveMonotoneX);
mg.append("path").attr("d",macdLine(deaLine)).attr("fill","none").attr("stroke","#3a5fc0").attr("stroke-width",1);
mg.append("path").attr("d",macdLine(diffLine)).attr("fill","none").attr("stroke","#000").attr("stroke-width",1);

/* frame */
hline(root,0,2107,38.5,LINE);
vline(root,31.5,38,1344,LINE);
hline(root,31,2107,870.5,LINE);
hline(root,31,2107,1083.5,LINE);
hline(root,0,2463,1344.5,LINE);
vline(root,2107.5,14,1344,LINE);
vline(root,2019.5,856,870,LINE);
vline(root,2019.5,1330,1344,LINE);
root.append("path").attr("d","M2090,38 L2107,38 L2107,53 Z").attr("fill","#808080");

/* axes */
function styleAxis(g,size,fill,weight){g.select(".domain").remove();g.selectAll("text").attr("font-family",LAT).attr("font-size",size).attr("fill",fill).attr("font-weight",weight||400);}
root.append("g").attr("transform","translate(27,1)").call(d3.axisLeft(yP).tickValues(priceTicks).tickSize(0).tickPadding(0).tickFormat(d3.format("d"))).call(g=>styleAxis(g,19,"#666"));
root.append("g").attr("transform","translate(26,2)").call(d3.axisLeft(yV).tickValues(volumeTicks).tickSize(0).tickPadding(0).tickFormat(d=>d+"万")).call(g=>{styleAxis(g,17,"#888");g.selectAll("text").attr("font-family",CJK).attr("textLength",32).attr("lengthAdjust","spacingAndGlyphs");});
root.append("g").attr("transform","translate(28,1)").call(d3.axisLeft(yM).tickValues(macdTicks).tickSize(0).tickPadding(0).tickFormat(d3.format("d"))).call(g=>styleAxis(g,19,"#666"));
root.append("g").attr("transform","translate(2,1344)").call(d3.axisBottom(x).tickValues(dateTickIndex).tickSize(0).tickPadding(9).tickFormat((d,k)=>dateTickLabels[k])).call(g=>styleAxis(g,19,"#555"));

/* titles */
root.append("circle").attr("cx",1).attr("cy",25).attr("r",4).attr("fill",BLUE);
const SER='"Liberation Serif",serif';
txt(root,13,32,"甲醇",{size:17,fill:"#555",family:CJK,len:34});
txt(root,47,32,"2601",{size:18,fill:"#555",family:SER,len:37});
txt(root,84,24,"M",{size:11,fill:"#e0101c",family:SER});
txt(root,98,32,"(CZCE MA601)",{size:18,fill:"#555",family:'"Liberation Mono",monospace',len:103});
txt(root,222,32,"周线",{size:17,fill:"#555",family:CJK});
chevron(root,268,25,13,8,"#333");

const F=18;
txt(root,38,57,"MA",{size:F,fill:"#3a5fc0",len:26});
txt(root,64,57,"组合",{size:16,fill:"#3a5fc0",family:CJK,len:34});
txt(root,98,57,"(5,10,20,40,60,0)",{size:F,fill:"#3a5fc0",len:140});
chevron(root,248,52,12,7,"#3a5fc0");
[[268,106,"MA5 2187.40","#000"],[386,116,"MA10 2266.70","#3a5fc0"],[514,116,"MA20 2356.05","#e01ad8"],[642,116,"MA40 2390.00","#0a7a0a"],[769,116,"MA60 2445.33","#777"]].forEach(([a,w,s,c])=>txt(root,a,57,s,{size:F,fill:c,len:w}));

txt(root,39,888,"CJL",{size:F,fill:"#3a5fc0",len:27});
chevron(root,76,882,12,7,"#3a5fc0");
txt(root,97,888,"成交量",{size:17,fill:"#333",family:CJK,len:53});
txt(root,156,888,"1283246.00",{size:F,fill:"#000",len:94});
txt(root,265,888,"持仓量",{size:17,fill:"#333",family:CJK,len:53});
txt(root,323,888,"1405588.00",{size:F,fill:"#000",len:95});

txt(root,39,1102,"MACD(12,26,9)",{size:F,fill:"#3a5fc0",len:121});
chevron(root,170,1096,12,7,"#3a5fc0");
txt(root,191,1102,"DIFF -74.53",{size:F,fill:"#000",len:93});
txt(root,298,1102,"DEA -45.78",{size:F,fill:"#3a5fc0",len:90});
txt(root,407,1102,"-57.49",{size:F,fill:"#000",len:50});

/* right panel */
const p=root.append("g");
txt(p,2112,36,"M",{size:19,fill:"#e0101c",weight:700});
txt(p,2132,48,"甲醇",{size:33,fill:BLUE,family:CJK});
txt(p,2198,48,"2601",{size:34,fill:BLUE,len:72});
txt(p,2290,48,"MA601",{size:34,fill:BLUE,len:108});
[58,100,144,477].forEach(py=>hline(p,2107,2463,py+.5,LINE));
vline(p,2272.5,144,477,"#888","3 3");
txt(p,2110,91,"卖出",{size:21,fill:"#333",family:CJK});
txt(p,2268,91,"2101",{size:32,fill:GREEN,anchor:"end"});
txt(p,2373,91,"105",{size:32,fill:BLUE,anchor:"end"});
txt(p,2110,135,"买入",{size:21,fill:"#333",family:CJK});
txt(p,2270,135,"2100",{size:32,fill:GREEN,anchor:"end"});
txt(p,2370,135,"611",{size:32,fill:BLUE,anchor:"end"});
const colorOf={g:GREEN,b:BLUE,k:"#000",r:"#e0101c"};
const rowY=d3.scaleLinear().domain([0,9]).range([168.3,465]);
quoteLeft.forEach(([l,v,c],k)=>{
  txt(p,2110,rowY(k)+1,l,{size:21,fill:"#333",family:CJK});
  txt(p,2260,rowY(k),v,{size:20,fill:colorOf[c],anchor:"end",weight:700});
});
quoteRight.forEach(([l,v,c],k)=>{
  txt(p,2281,rowY(k)+1,l,{size:21,fill:"#333",family:CJK});
  txt(p,2458,rowY(k),v,{size:20,fill:colorOf[c],anchor:"end",weight:700});
});
p.append("path").attr("d","M2326,328 L2339,328 L2332.5,334 Z").attr("fill","#b0b0b0");

const flowRows=[["32.3%","大 单","31.5%",975,2213,2362,963],["17.6%","散 单","18.6%",1012,2235,2343,1000],["49.9%","合 计","50.1%",1049,2186,2391,1037]];
flowRows.forEach(([a,l,b,py,rx,gx,ty])=>{
  txt(p,2112,py,a,{size:19,fill:BLUE,weight:700});
  p.append("rect").attr("x",rx).attr("y",ty).attr("width",2262-rx).attr("height",13).attr("fill","#ee0000");
  txt(p,2264,py-2,l,{size:21,fill:"#222",family:CJK});
  p.append("rect").attr("x",2315).attr("y",ty).attr("width",gx-2315).attr("height",13).attr("fill",GREEN);
  txt(p,2411,py,b,{size:19,fill:BLUE,weight:700});
});
txt(p,2112,1085,"多方均价",{size:21,fill:"#333",family:CJK});
txt(p,2197,1085,"2098",{size:19,fill:BLUE,weight:700});
txt(p,2336,1085,"2097",{size:19,fill:BLUE,weight:700});
txt(p,2381,1085,"空方均价",{size:21,fill:"#333",family:CJK});
hline(p,2109,2463,1120.5,LINE);
const bigRows=[["多换","1.6%","1.7%","空换",1158],["双开","1.3%","0.9%","双平",1195],["多开","23.2%","25.3%","空开",1232],["空平","23.8%","21.9%","多平",1268]];
bigRows.forEach(([a,b,c,d,py])=>{
  txt(p,2112,py-2,a,{size:21,fill:"#333",family:CJK});
  txt(p,2162,py,b,{size:19,fill:BLUE,weight:700});
  txt(p,2415,py,c,{size:19,fill:BLUE,weight:700,anchor:"end"});
  txt(p,2423,py-2,d,{size:21,fill:"#333",family:CJK});
});
const NAVY="#00008b";
[[2284,4,1142,18,"#dd0000"],[2289,2,1142,18,GREEN],[2285,3,1178,18,NAVY],[2289,1,1178,18,NAVY],
 [2233,20,1214,18,NAVY],[2254,33,1214,18,"#ee0000"],[2289,35,1214,18,GREEN],[2325,21,1214,18,NAVY],
 [2232,20,1250,18,NAVY],[2253,34,1250,18,"#ee0000"],[2289,31,1250,18,GREEN],[2321,18,1250,18,NAVY]]
 .forEach(([a,w,t,h,c])=>p.append("rect").attr("x",a).attr("y",t).attr("width",w).attr("height",h).attr("fill",c));
p.append("rect").attr("x",2334.5).attr("y",1308.5).attr("width",18).attr("height",18).attr("fill","none").attr("stroke","#222");
txt(p,2357,1322,"只统计大单",{size:21,fill:"#222",family:CJK});
[["明细",2143],["分价",2213],["分笔",2282],["统计",2350]].forEach(([s,a])=>txt(p,a,1364,s,{size:20,fill:"#666",family:CJK}));
[[2122,2127],[2190,2195],[2258,2264],[2338,2332],[2405,2400]].forEach(([a,b])=>p.append("line").attr("x1",a).attr("x2",b).attr("y1",1345).attr("y2",1355).attr("stroke","#777"));
</script></body></html>
